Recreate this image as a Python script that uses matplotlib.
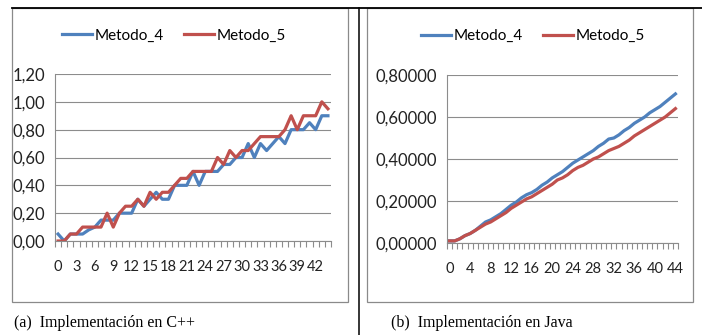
import matplotlib
matplotlib.use("Agg")
import matplotlib.pyplot as plt
from matplotlib.lines import Line2D
from matplotlib.patches import Rectangle
from matplotlib.ticker import FuncFormatter

# --- data ---
x_vals = list(range(45))

cpp_metodo_4 = [0.05, 0.00, 0.05, 0.05, 0.05, 0.08, 0.10, 0.15, 0.15, 0.15,
                0.20, 0.20, 0.20, 0.30, 0.25, 0.30, 0.35, 0.30, 0.30, 0.40,
                0.40, 0.40, 0.50, 0.40, 0.50, 0.50, 0.50, 0.55, 0.55, 0.60,
                0.60, 0.70, 0.60, 0.70, 0.65, 0.70, 0.75, 0.70, 0.80, 0.80,
                0.80, 0.85, 0.80, 0.90, 0.90]
cpp_metodo_5 = [0.00, 0.00, 0.05, 0.05, 0.10, 0.10, 0.10, 0.10, 0.20, 0.10,
                0.20, 0.25, 0.25, 0.30, 0.25, 0.35, 0.30, 0.35, 0.35, 0.40,
                0.45, 0.45, 0.50, 0.50, 0.50, 0.50, 0.60, 0.55, 0.65, 0.60,
                0.65, 0.65, 0.70, 0.75, 0.75, 0.75, 0.75, 0.80, 0.90, 0.80,
                0.90, 0.90, 0.90, 1.00, 0.95]

java_metodo_4 = [0.010, 0.010, 0.020, 0.035, 0.045, 0.060, 0.080, 0.100, 0.110, 0.125,
                 0.140, 0.160, 0.180, 0.195, 0.215, 0.230, 0.240, 0.255, 0.275, 0.290,
                 0.310, 0.325, 0.340, 0.360, 0.380, 0.395, 0.410, 0.425, 0.440, 0.460,
                 0.475, 0.495, 0.500, 0.515, 0.535, 0.550, 0.570, 0.585, 0.600, 0.620,
                 0.635, 0.650, 0.670, 0.690, 0.710]
java_metodo_5 = [0.010, 0.010, 0.020, 0.035, 0.045, 0.060, 0.075, 0.090, 0.100, 0.115,
                 0.130, 0.145, 0.165, 0.180, 0.195, 0.210, 0.220, 0.235, 0.250, 0.265,
                 0.280, 0.300, 0.310, 0.325, 0.345, 0.360, 0.370, 0.385, 0.400, 0.410,
                 0.425, 0.440, 0.450, 0.460, 0.475, 0.490, 0.510, 0.525, 0.540, 0.555,
                 0.570, 0.585, 0.600, 0.620, 0.640]

series_names = ["Metodo_4", "Metodo_5"]
captions = ["(a)  Implementación en C++", "(b)  Implementación en Java"]

BLUE = "#4F81BD"
RED = "#C0504D"
GRID = "#8C8C8C"
W, H = 702, 335

plt.rcParams["font.family"] = ["Lato", "DejaVu Sans"]

fig = plt.figure(figsize=(W / 100, H / 100), dpi=100)


def px_axes(x0, x1, ytop, ybot):
    return fig.add_axes([x0 / W, 1 - ybot / H, (x1 - x0) / W, (ybot - ytop) / H])


def style_chart(ax, ymax, ystep, xstep, decimals, leg_x, leg_y):
    ax.set_xlim(-0.5, 44.5)
    ax.set_ylim(0, ymax)
    yt = [i * ystep for i in range(int(round(ymax / ystep)) + 1)]
    ax.set_yticks(yt)
    ax.yaxis.set_major_formatter(FuncFormatter(
        lambda v, p: f"{v:.{decimals}f}".replace(".", ",")))
    ax.set_xticks(x_vals[::xstep])
    ax.set_xticks([i - 0.5 for i in range(46)], minor=True)
    ax.tick_params(axis="x", which="major", length=0, pad=14,
                   labelsize=10.5, labelcolor="#222222")
    ax.tick_params(axis="x", which="minor", length=4, width=0.8,
                   color=GRID, direction="out")
    ax.tick_params(axis="y", length=0, pad=7, labelsize=12,
                   labelcolor="#222222")
    ax.grid(True, axis="y", color=GRID, linewidth=0.8)
    ax.set_axisbelow(True)
    for s in ["top", "right"]:
        ax.spines[s].set_visible(False)
    for s in ["left", "bottom"]:
        ax.spines[s].set_color(GRID)
        ax.spines[s].set_linewidth(0.8)
    ax.legend(loc="center", bbox_to_anchor=(leg_x, leg_y), ncol=2,
              frameon=False, fontsize=11, handlelength=2.0,
              handletextpad=0.15, columnspacing=1.3)


ax1 = px_axes(55, 331, 74, 241)
ax1.plot(x_vals, cpp_metodo_4, color=BLUE, lw=2.3, label=series_names[0])
ax1.plot(x_vals, cpp_metodo_5, color=RED, lw=2.3, label=series_names[1])
style_chart(ax1, 1.2, 0.2, 3, 2, 0.431, 1.23)

ax2 = px_axes(447, 678, 75, 243)
ax2.plot(x_vals, java_metodo_4, color=BLUE, lw=2.3, label=series_names[0])
ax2.plot(x_vals, java_metodo_5, color=RED, lw=2.3, label=series_names[1])
style_chart(ax2, 0.8, 0.2, 4, 5, 0.372, 1.23)

# --- frames around the two charts ---
for x0, x1 in [(12, 348), (367, 693)]:
    fig.add_artist(Rectangle((x0 / W, 1 - 302 / H), (x1 - x0) / W, (302 - 8) / H,
                             transform=fig.transFigure, fill=False,
                             edgecolor="#8A8A8A", linewidth=0.9))
fig.add_artist(Line2D([12 / W, 1], [1 - 8 / H, 1 - 8 / H],
                      transform=fig.transFigure, color="black", lw=1.3))
fig.add_artist(Line2D([359 / W, 359 / W], [0, 1 - 8 / H],
                      transform=fig.transFigure, color="black", lw=1.1))

# --- captions ---
fig.text(14 / W, 1 - 323 / H, captions[0], family="Liberation Serif",
         fontsize=11.5, va="center", ha="left")
fig.text(391 / W, 1 - 323 / H, captions[1], family="Liberation Serif",
         fontsize=11.5, va="center", ha="left")

fig.savefig("out.png", dpi=100)
